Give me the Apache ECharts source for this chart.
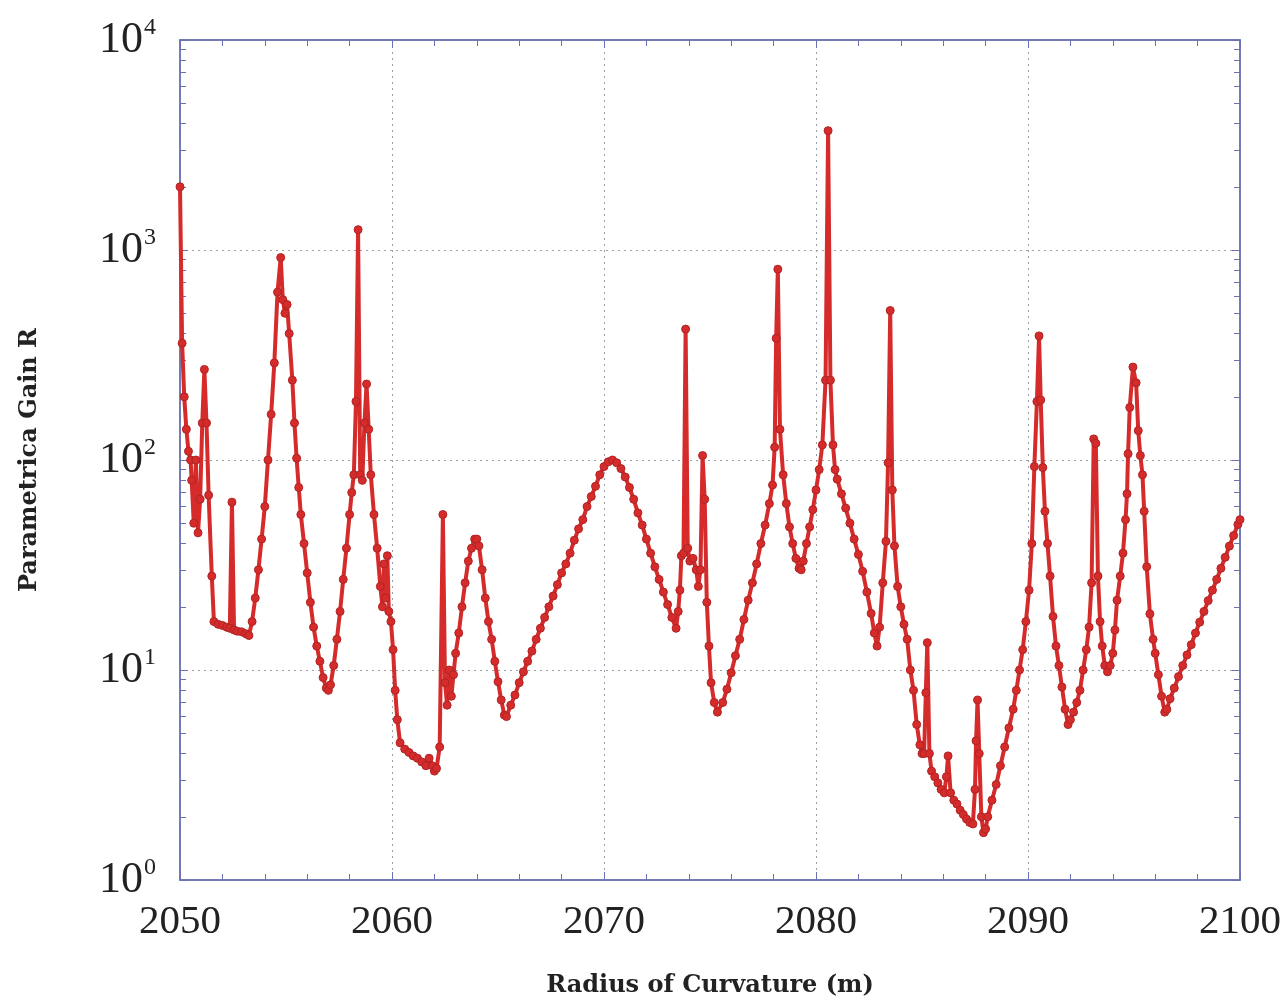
<!DOCTYPE html>
<html>
<head>
<meta charset="utf-8">
<script src="https://cdn.jsdelivr.net/npm/echarts@6/dist/echarts.min.js"></script>
<style>
html,body{margin:0;padding:0;background:#fff;}
#chart{width:1285px;height:1004px;}
</style>
</head>
<body>
<div id="chart"></div>
<script>
// Radius of curvature (m)
var radius = [
2050.0,2050.1,2050.2,2050.3,2050.4,2050.5,2050.55,2050.65,2050.75,2050.85,2050.95,2051.05,2051.15,2051.25,2051.35,2051.5,2051.6,2051.8,
2052.0,2052.2,2052.35,2052.45,2052.55,2052.7,2052.9,2053.1,2053.25,2053.4,2053.55,2053.7,2053.85,
2054.0,2054.15,2054.3,2054.45,2054.6,2054.75,2054.85,2054.95,2055.05,2055.15,2055.3,2055.4,2055.5,2055.6,2055.7,2055.85,
2056.0,2056.15,2056.3,2056.45,2056.6,2056.75,2056.9,2057.0,2057.1,2057.25,2057.4,2057.55,2057.7,2057.85,
2058.0,2058.1,2058.2,2058.3,2058.4,2058.5,2058.6,2058.7,2058.8,2058.9,2059.0,2059.15,2059.3,2059.45,2059.55,2059.62,2059.7,2059.78,2059.85,2059.95,
2060.05,2060.15,2060.25,2060.38,2060.6,2060.8,2061.0,2061.2,2061.4,2061.6,2061.75,2061.9,
2062.0,2062.1,2062.25,2062.4,2062.5,2062.6,2062.7,2062.8,2062.9,2063.0,2063.15,2063.3,2063.45,2063.6,2063.75,2063.9,
2064.0,2064.1,2064.25,2064.4,2064.55,2064.7,2064.85,2065.0,2065.15,2065.3,2065.4,2065.6,2065.8,
2066.0,2066.2,2066.4,2066.6,2066.8,2067.0,2067.2,2067.4,2067.6,2067.8,
2068.0,2068.2,2068.4,2068.6,2068.8,2069.0,2069.2,2069.4,2069.6,2069.8,
2070.0,2070.2,2070.4,2070.6,2070.8,2071.0,2071.2,2071.4,2071.6,2071.8,
2072.0,2072.2,2072.4,2072.6,2072.8,2073.0,2073.2,2073.4,2073.5,2073.58,2073.65,2073.75,2073.85,2073.95,
2074.05,2074.2,2074.35,2074.45,2074.55,2074.65,2074.75,2074.85,2074.95,2075.05,2075.2,2075.35,2075.6,2075.8,
2076.0,2076.2,2076.4,2076.6,2076.8,2077.0,2077.2,2077.4,2077.6,2077.8,2077.95,
2078.05,2078.12,2078.2,2078.3,2078.45,2078.6,2078.75,2078.9,2079.05,2079.2,2079.3,2079.4,2079.55,2079.7,2079.85,
2080.0,2080.15,2080.3,2080.45,2080.57,2080.68,2080.8,2080.9,2081.0,2081.2,2081.4,2081.6,2081.8,
2082.0,2082.2,2082.4,2082.6,2082.75,2082.88,2083.0,2083.15,2083.3,2083.4,2083.5,2083.6,2083.7,2083.85,
2084.0,2084.15,2084.3,2084.45,2084.6,2084.75,2084.9,2085.0,2085.1,2085.18,2085.25,2085.35,2085.45,2085.6,2085.75,2085.9,
2086.05,2086.15,2086.23,2086.35,2086.5,2086.65,2086.8,2086.95,2087.1,2087.25,2087.4,2087.5,2087.55,2087.62,2087.7,2087.8,2087.9,
2088.0,2088.1,2088.3,2088.5,2088.7,2088.9,2089.1,2089.3,2089.45,2089.6,2089.75,2089.9,
2090.05,2090.18,2090.3,2090.42,2090.52,2090.6,2090.7,2090.8,2090.92,2091.04,2091.18,2091.32,2091.46,2091.6,2091.75,2091.89,
2092.0,2092.15,2092.3,2092.45,2092.6,2092.75,2092.88,2093.0,2093.1,2093.2,2093.3,2093.4,2093.5,2093.62,2093.75,2093.88,
2094.0,2094.1,2094.2,2094.35,2094.48,2094.6,2094.67,2094.72,2094.8,2094.95,2095.1,2095.2,2095.3,2095.4,2095.48,2095.6,2095.75,2095.9,
2096.0,2096.15,2096.3,2096.45,2096.55,2096.7,2096.9,2097.1,2097.3,2097.5,2097.7,2097.9,
2098.1,2098.3,2098.5,2098.7,2098.9,2099.1,2099.3,2099.5,2099.7,2099.9,2100.0
];
// Parametric gain R
var gain = [
2000,360,200,140,110,100,80,50,100,45,65,150,270,150,68,28,17,16.5,
16.3,16,15.8,63,15.5,15.3,15.2,14.9,14.6,17,22,30,42,
60,100,165,290,630,920,580,500,550,400,240,150,102,74,55,40,
29,21,16,13,11,9.2,8.2,8.0,8.5,10.5,14,19,27,38,
55,70,85,190,1250,85,80,150,230,140,85,55,38,25,20,32,22,35,19,17,
12.5,8,5.8,4.5,4.2,4.05,3.9,3.8,3.65,3.5,3.8,3.5,
3.3,3.4,4.3,55,8.7,6.8,10,7.5,9.5,12,15,20,26,33,38,42,
42,39,30,22,17,14,11,8.8,7.2,6.1,6.0,6.8,7.6,
8.7,9.8,11,12.3,14,15.8,17.8,20,22.5,25.5,
29,32,36,41.5,47,52,60,67,75,85,
93,98,100,97,91,83,74,65,56,49,
42,36,31,27,23.5,20.5,17.8,15.8,19,24,35,36,420,38,
33,34,30,25,30,105,65,21,13,8.7,7.0,6.3,7.0,8.1,
9.7,11.7,14,17.4,21.5,26,32,40,49,62,76,
115,380,810,140,85,62,48,40,34,30.5,30,33,40,48,58,
72,90,118,240,3700,240,118,90,81,69,59,50,42,
35.5,29.5,23.5,18.6,15,13,16,26,41,97,515,72,39,25,
20,16.5,14,10,8,5.5,4.4,4.0,4.0,7.8,13.5,4.0,3.3,3.1,2.9,2.7,
2.6,3.1,3.9,2.6,2.4,2.3,2.15,2.05,1.95,1.88,1.85,2.7,4.6,7.2,4.0,2.0,1.68,
1.75,2.0,2.4,2.85,3.5,4.3,5.3,6.5,8,10,12.5,17,
24,40,93,190,390,193,92,57,40,28,18,13,10.5,8.3,6.5,5.5,
5.8,6.3,7.0,8.0,10,12.5,16,26,126,120,28,17,13,10.5,9.8,10.5,
12,15.5,21.5,28,36,52,69,107,178,277,233,138,105,85,57,31,18.5,14,
12,9.5,7.5,6.3,6.5,7.3,8.2,9.3,10.5,11.8,13.2,15,
16.9,19,21.4,24,27,30.5,34.4,38.9,43.7,49.3,52
];
var xTicks = [2050, 2060, 2070, 2080, 2090, 2100];
var yTicks = [1, 10, 100, 1000, 10000];

var seriesData = radius.map(function (r, i) { return [r, gain[i]]; });

var chart = echarts.init(document.getElementById('chart'), null, {renderer: 'canvas'});
var frame = '#6a72b4';
var serif = '"Liberation Serif", "DejaVu Serif", serif';
var nameFont = '"DejaVu Serif", "Liberation Serif", serif';
var gridLine = {show: true, lineStyle: {type: [2, 4], color: '#9aa0aa', width: 1}};

function supLabel(v) {
  var e = Math.round(Math.log(v) / Math.LN10);
  return '{b|10}{s|' + e + '}';
}

chart.setOption({
  animation: false,
  backgroundColor: '#ffffff',
  grid: {left: 180, right: 45, top: 40, bottom: 124, containLabel: false, outerBoundsMode: 'none',
         show: true, borderColor: frame, borderWidth: 1.5, backgroundColor: 'transparent'},
  xAxis: [{
    type: 'value', min: xTicks[0], max: xTicks[xTicks.length - 1], interval: 10,
    position: 'bottom',
    name: 'Radius of Curvature (m)', nameLocation: 'middle', nameGap: 94,
    nameTextStyle: {fontFamily: nameFont, fontWeight: 'bold', fontSize: 24, color: '#222'},
    axisLine: {show: true, lineStyle: {color: frame, width: 1.5}},
    axisTick: {show: true, inside: true, length: 8, lineStyle: {color: frame}},
    minorTick: {show: true, splitNumber: 5, length: 6, lineStyle: {color: frame}},
    axisLabel: {margin: 22, fontFamily: serif, fontSize: 41, color: '#222', formatter: function (v) { return String(v); }},
    splitLine: gridLine
  }, {
    type: 'value', min: xTicks[0], max: xTicks[xTicks.length - 1], interval: 10,
    position: 'top',
    axisLine: {show: true, lineStyle: {color: frame, width: 1.5}},
    axisTick: {show: true, inside: true, length: 8, lineStyle: {color: frame}},
    minorTick: {show: true, splitNumber: 5, length: 6, lineStyle: {color: frame}},
    axisLabel: {show: false},
    splitLine: {show: false}
  }],
  yAxis: [{
    type: 'log', logBase: 10, min: yTicks[0], max: yTicks[yTicks.length - 1],
    position: 'left',
    name: 'Parametrica Gain R', nameLocation: 'middle', nameGap: 138,
    nameTextStyle: {fontFamily: nameFont, fontWeight: 'bold', fontSize: 24, color: '#222'},
    axisLine: {show: true, lineStyle: {color: frame, width: 1.5}},
    axisTick: {show: true, inside: true, length: 8, lineStyle: {color: frame}},
    minorTick: {show: true, splitNumber: 9, length: 6, lineStyle: {color: frame}},
    axisLabel: {
      margin: 24, formatter: supLabel,
      rich: {
        b: {fontFamily: serif, fontSize: 44, color: '#222'},
        s: {fontFamily: serif, fontSize: 24, color: '#222', verticalAlign: 'top', padding: [0, 0, 24, 1]}
      }
    },
    splitLine: gridLine
  }, {
    type: 'log', logBase: 10, min: yTicks[0], max: yTicks[yTicks.length - 1],
    position: 'right',
    axisLine: {show: true, lineStyle: {color: frame, width: 1.5}},
    axisTick: {show: true, inside: true, length: 8, lineStyle: {color: frame}},
    minorTick: {show: true, splitNumber: 9, length: 6, lineStyle: {color: frame}},
    axisLabel: {show: false},
    splitLine: {show: false}
  }],
  series: [{
    type: 'line',
    data: seriesData,
    xAxisIndex: 0, yAxisIndex: 0,
    symbol: 'circle', symbolSize: 8,
    showAllSymbol: true,
    lineStyle: {color: '#d52b2b', width: 4},
    itemStyle: {color: '#d52b2b', borderColor: '#b02424', borderWidth: 1},
    z: 5
  }]
});
</script>
</body>
</html>
